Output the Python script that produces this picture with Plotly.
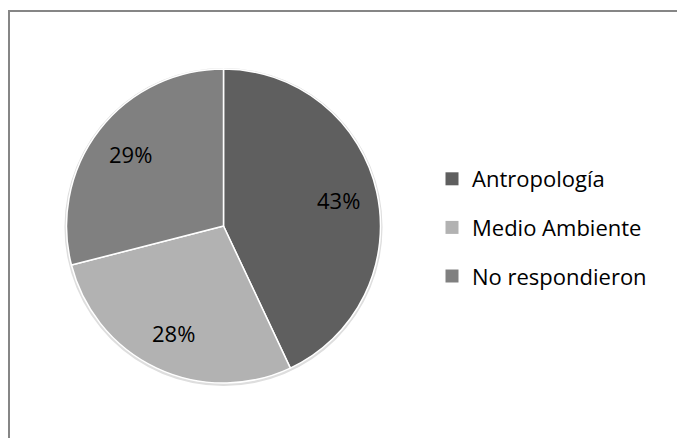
import math
import plotly.graph_objects as go

labels = ["Antropología", "Medio Ambiente", "No respondieron"]
values = [43, 28, 29]
colors = ["#5f5f5f", "#b2b2b2", "#808080"]

W, H = 677, 438
FONT = "Open Sans"

# pie geometry (pixels)
CX, CY, R = 223.5, 226, 157
LABEL_R = 0.75

fig = go.Figure()

# soft shadow behind the pie
fig.add_trace(go.Pie(
    values=[1], labels=["_shadow"], sort=False,
    marker=dict(colors=["#dedede"], line=dict(width=0)),
    textinfo="none", hoverinfo="skip", showlegend=False,
    domain=dict(x=[(CX - R - 2) / W, (CX + R + 2) / W],
                y=[1 - (CY + R + 3) / H, 1 - (CY - R - 1) / H]),
))

fig.add_trace(go.Pie(
    labels=labels,
    values=values,
    sort=False,
    direction="clockwise",
    rotation=0,
    marker=dict(colors=colors, line=dict(color="white", width=1.5)),
    textinfo="none",
    domain=dict(x=[(CX - R) / W, (CX + R) / W], y=[1 - (CY + R) / H, 1 - (CY - R) / H]),
    showlegend=False,
    hoverinfo="label+percent",
))

# percentage labels placed at each slice's mid-angle
total = sum(values)
cum = 0
annotations = []
for v in values:
    mid = (cum + v / 2) / total * 2 * math.pi
    cum += v
    px = CX + LABEL_R * R * math.sin(mid)
    py = CY - LABEL_R * R * math.cos(mid)
    annotations.append(dict(
        x=px / W, y=1 - py / H, xref="paper", yref="paper",
        text=f"{round(v / total * 100)}%", showarrow=False,
        font=dict(family=FONT, size=22, color="black"),
        xanchor="center", yanchor="middle",
    ))

# legend entries
for i, (lab, col) in enumerate(zip(labels, colors)):
    fig.add_trace(go.Scatter(
        x=[None], y=[None], mode="markers", name=lab,
        marker=dict(symbol="square", size=13, color=col),
        legendgroup=f"g{i}", showlegend=True,
    ))

fig.update_layout(
    width=W, height=H,
    margin=dict(l=0, r=0, t=0, b=0),
    paper_bgcolor="white", plot_bgcolor="white",
    xaxis=dict(visible=False), yaxis=dict(visible=False),
    font=dict(family=FONT, color="black"),
    annotations=annotations,
    legend=dict(
        x=432 / W, y=1 - 158 / H, xanchor="left", yanchor="top",
        font=dict(family=FONT, size=22, color="black"),
        tracegroupgap=17,
        bgcolor="rgba(0,0,0,0)",
    ),
    shapes=[dict(
        type="rect", xref="paper", yref="paper",
        x0=9 / W, x1=1.2, y0=-0.2, y1=1 - 11 / H,
        line=dict(color="#868686", width=2),
        fillcolor="rgba(0,0,0,0)",
    )],
)

fig.write_html("out.html", config={"displayModeBar": False},
               post_script="document.body.style.margin='0';")
